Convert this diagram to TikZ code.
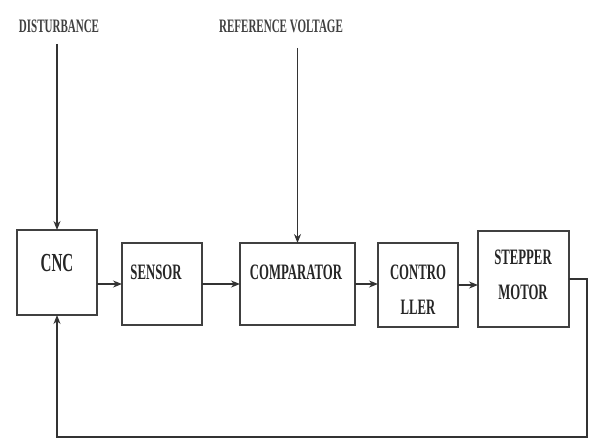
\documentclass[tikz,border=0pt]{standalone}
\usepackage{fontspec}
\setmainfont{Liberation Serif}[FakeStretch=0.58]
\usetikzlibrary{arrows.meta}

\begin{document}
\begin{tikzpicture}[x=1pt,y=-1pt,
  block/.style={draw=black!75, line width=1.6pt, inner sep=0pt, outer sep=0pt},
  blocktext/.style={font=\fontsize{22}{35}\selectfont\bfseries, text=black!85, align=center},
  tag/.style={font=\fontsize{19}{22}\selectfont\bfseries, text=black!75},
  arr/.style={draw=black!80, line width=1.4pt, -{Stealth[length=9pt,width=7pt]}}]
\useasboundingbox (0,0) rectangle (589,441);

% inputs
\node[tag] (dist) at (59,26) {DISTURBANCE};
\node[tag] (ref) at (281,26) {REFERENCE VOLTAGE};

% blocks
\node[block, minimum width=80pt, minimum height=85pt] (cnc) at (57,272.5) {};
\node[blocktext, font=\fontsize{26}{30}\selectfont\bfseries] (cnctxt) at (57,263) {CNC};
\node[block, minimum width=80pt, minimum height=82pt] (sensor) at (162,284) {};
\node[blocktext] (sensortxt) at (156,272) {SENSOR};
\node[block, minimum width=115pt, minimum height=82pt] (comp) at (297.5,284) {};
\node[blocktext] (comptxt) at (296,272) {COMPARATOR};
\node[block, minimum width=80pt, minimum height=84pt] (ctrl) at (418,285) {};
\node[blocktext] (ctrltxt) at (418,290) {CONTRO\\LLER};
\node[block, minimum width=91pt, minimum height=96pt] (step) at (523.5,279) {};
\node[blocktext] (steptxt) at (523,274.5) {STEPPER\\MOTOR};

\coordinate (fb) at (587,437);

% connectors
\draw[arr, shorten <=8pt] (dist.south -| cnc.north) -- (cnc.north);
\draw[arr, shorten <=12pt] (ref.south -| comp.north) -- (comp.north);
\draw[arr] (sensor.west -| cnc.east) -- (sensor.west);
\draw[arr] (sensor.east) -- (comp.west);
\draw[arr] (comp.east) -- (comp.east -| ctrl.west);
\draw[arr] (ctrl.east) -- (ctrl.east -| step.west);
\draw[arr] (step.east) -| (fb) -| (cnc.south);
\end{tikzpicture}
\end{document}
